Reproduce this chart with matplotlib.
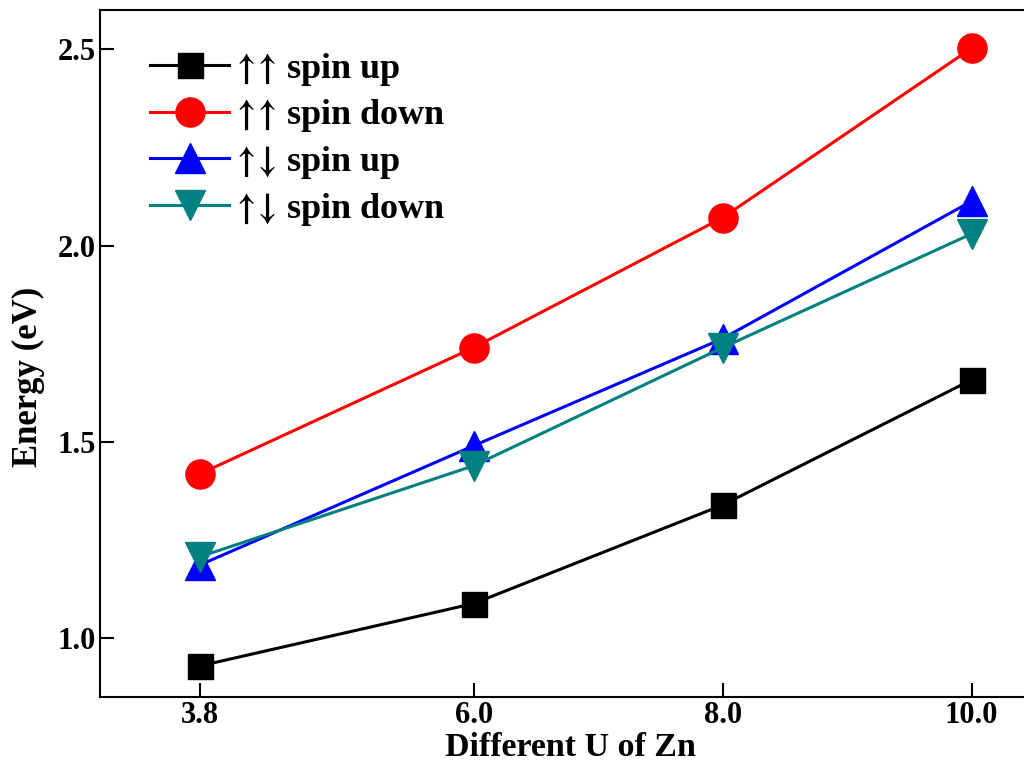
import numpy as np
import matplotlib
matplotlib.use("Agg")
import matplotlib.pyplot as plt

plt.rcParams['font.family'] = ['Liberation Serif', 'DejaVu Serif']
plt.rcParams['font.weight'] = 'bold'
plt.rcParams['mathtext.fontset'] = 'stix'

# data
u_values = [3.8, 6.0, 8.0, 10.0]
up_up_spin_up = [0.929, 1.088, 1.339, 1.658]
up_up_spin_down = [1.418, 1.740, 2.071, 2.503]
up_down_spin_up = [1.186, 1.490, 1.763, 2.113]
up_down_spin_down = [1.207, 1.439, 1.740, 2.030]

x_ticks = [3.8, 6.0, 8.0, 10.0]
y_ticks = [1.0, 1.5, 2.0, 2.5]

fig = plt.figure(figsize=(10.24, 7.65), dpi=100)
ax = fig.add_axes([0.0977, 0.0889, 0.912, 0.898])

ax.plot(u_values, up_up_spin_up, color='black', marker='s', markersize=18,
        linewidth=2.2, label='$↑↑$ spin up')
ax.plot(u_values, up_up_spin_down, color='#ff0000', marker='o', markersize=21,
        linewidth=2.2, label='$↑↑$ spin down')
ax.plot(u_values, up_down_spin_up, color='#0000ff', marker='^', markersize=21,
        linewidth=2.2, label='$↑↓$ spin up')
ax.plot(u_values, up_down_spin_down, color='#008080', marker='v', markersize=21,
        linewidth=2.2, label='$↑↓$ spin down')

ax.set_xlim(3.0, 10.5)
ax.set_ylim(0.85, 2.6)
ax.set_xticks(x_ticks)
ax.set_xticklabels(['%.1f' % v for v in x_ticks])
ax.set_yticks(y_ticks)
ax.set_yticklabels(['%.1f' % v for v in y_ticks])
ax.tick_params(direction='in', length=10, width=1.5, labelsize=22, pad=3)
for s in ax.spines.values():
    s.set_linewidth(1.5)

ax.set_xlabel('Different U of Zn', fontsize=24.5, fontweight='bold')
ax.set_ylabel('Energy (eV)', fontsize=25, fontweight='bold')
ax.xaxis.set_label_coords(0.504, -0.051)
ax.yaxis.set_label_coords(-0.059, 0.466)

leg = ax.legend(loc='upper left', frameon=False, fontsize=26, handlelength=2.2,
                handletextpad=0.15, labelspacing=0.27, borderaxespad=0,
                bbox_to_anchor=(0.038, 0.962))

fig.savefig('out.png', dpi=100)
